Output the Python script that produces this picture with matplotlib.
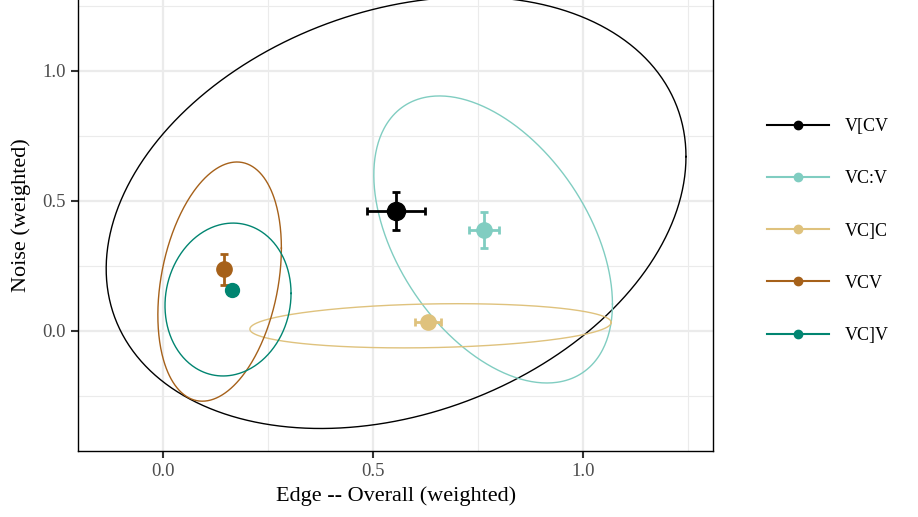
import numpy as np
import matplotlib
matplotlib.use("Agg")
import matplotlib.pyplot as plt
from matplotlib.lines import Line2D

plt.rcParams["font.family"] = ["Liberation Serif", "DejaVu Serif"]

# groups and colours (BrBG-like palette)
groups = ["V[CV", "VC:V", "VC]C", "VCV", "VC]V"]
colours = ["#000000", "#80CDC1", "#DFC27D", "#A6611A", "#018571"]

# point estimates and standard errors
mean_x = [0.555, 0.764, 0.631, 0.145, 0.164]
mean_y = [0.462, 0.388, 0.035, 0.237, 0.158]
err_x = [0.069, 0.035, 0.030, 0.0, 0.0]
err_y = [0.073, 0.069, 0.0, 0.060, 0.0]
pt_size = [13, 11, 11, 11, 10]

# ellipse parameters: centre, half-width, half-height, tilt (cos of phase)
ell_cx = [0.555, 0.786, 0.637, 0.135, 0.155]
ell_cy = [0.455, 0.352, 0.020, 0.190, 0.121]
ell_a = [0.690, 0.284, 0.430, 0.147, 0.150]
ell_b = [0.830, 0.552, 0.085, 0.460, 0.294]
ell_rho = [0.26, -0.45, 0.15, 0.28, 0.08]

fig = plt.figure(figsize=(9.18, 5.17), dpi=100)
ax = fig.add_axes([0.085, 0.1277, 0.692, 0.911])

t = np.linspace(0, 2 * np.pi, 400)
for i in range(len(groups)):
    phi = np.arccos(ell_rho[i])
    ex = ell_cx[i] + ell_a[i] * np.cos(t)
    ey = ell_cy[i] + ell_b[i] * np.cos(t - phi)
    ax.plot(ex, ey, color=colours[i], lw=1.0, zorder=2)

for i in range(len(groups)):
    ax.errorbar(mean_x[i], mean_y[i], xerr=err_x[i] if err_x[i] else None,
                yerr=err_y[i] if err_y[i] else None, fmt="o", color=colours[i],
                ms=pt_size[i], elinewidth=2, capsize=3, capthick=2, zorder=3)

ax.set_xticks([0.0, 0.5, 1.0])
ax.set_xticklabels(["0.0", "0.5", "1.0"])
ax.set_yticks([0.0, 0.5, 1.0])
ax.set_yticklabels(["0.0", "0.5", "1.0"])
ax.set_xticks([-0.25, 0.25, 0.75, 1.25], minor=True)
ax.set_yticks([-0.25, 0.25, 0.75, 1.25], minor=True)
ax.set_xlim(-0.202, 1.31)
ax.set_ylim(-0.4615, 1.35)
ax.grid(which="major", color="#EBEBEB", lw=1.6, zorder=0)
ax.grid(which="minor", color="#EBEBEB", lw=0.8, zorder=0)
ax.set_axisbelow(True)
ax.tick_params(which="major", length=5, width=1.5, color="#333333",
               labelsize=13.5, labelcolor="#4D4D4D", pad=4)
ax.tick_params(which="minor", length=0)
for s in ax.spines.values():
    s.set_color("#000000")
    s.set_linewidth(1.0)

ax.set_xlabel("Edge -- Overall (weighted)", fontsize=16, labelpad=4)
ax.set_ylabel("Noise (weighted)", fontsize=16, labelpad=8)

handles = [Line2D([0], [0], color=c, lw=1.5, marker="o", ms=6) for c in colours]
fig.legend(handles, groups, loc="center left", bbox_to_anchor=(0.818, 0.553),
           frameon=False, fontsize=13, handlelength=3.4, labelspacing=1.95,
           handletextpad=0.9)

fig.savefig("out.png", dpi=100)
